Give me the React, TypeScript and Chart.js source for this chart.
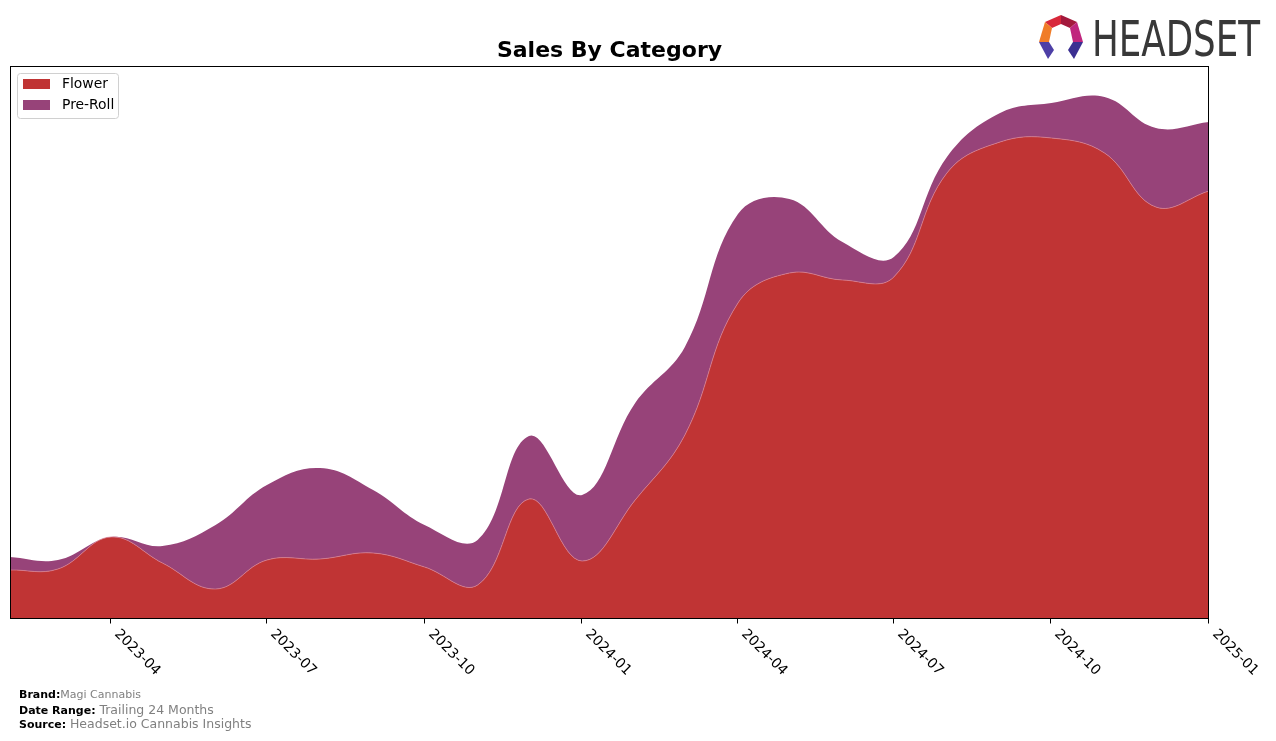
import React, { useEffect, useRef } from "react";
import { Chart, registerables } from "chart.js";

Chart.register(...registerables);

const months = [
  "2023-02", "2023-03", "2023-04", "2023-05", "2023-06", "2023-07",
  "2023-08", "2023-09", "2023-10", "2023-11", "2023-12", "2024-01",
  "2024-02", "2024-03", "2024-04", "2024-05", "2024-06", "2024-07",
  "2024-08", "2024-09", "2024-10", "2024-11", "2024-12", "2025-01",
];
const flowerSales = [49, 50, 82, 56, 30, 59, 60, 66, 52, 34, 120, 58, 119, 184, 316, 346, 339, 342, 446, 477, 481, 466, 412, 428];
const preRollSales = [13, 9, 0, 17, 64, 75, 91, 63, 42, 45, 63, 66, 97, 88, 89, 74, 38, 20, 16, 29, 35, 56, 79, 69];
const tickLabels = ["2023-04", "2023-07", "2023-10", "2024-01", "2024-04", "2024-07", "2024-10", "2025-01"];
const seriesNames = ["Flower", "Pre-Roll"];
const seriesColors = ["#c03434", "#974379"];
const yMax = 553;

const dayIndex = (m: string) => {
  const [y, mo] = m.split("-").map(Number);
  const [y0, m0] = months[0].split("-").map(Number);
  return (Date.UTC(y, mo - 1, 1) - Date.UTC(y0, m0 - 1, 1)) / 86400000;
};

const FONT = "'DejaVu Sans', sans-serif";

const decorPlugin = {
  id: "decor",
  afterDraw(chart: any) {
    const { ctx, chartArea } = chart;
    const xs = chart.scales.x;
    ctx.save();
    // frame
    ctx.strokeStyle = "#000";
    ctx.lineWidth = 1;
    ctx.strokeRect(
      Math.round(chartArea.left) + 0.5,
      Math.round(chartArea.top) + 0.5,
      Math.round(chartArea.right - chartArea.left) - 1,
      Math.round(chartArea.bottom - chartArea.top) - 1
    );
    // ticks + labels
    ctx.font = `14px ${FONT}`;
    ctx.fillStyle = "#000";
    ctx.textAlign = "left";
    ctx.textBaseline = "top";
    tickLabels.forEach((t) => {
      const px = Math.round(xs.getPixelForValue(dayIndex(t))) - 0.5;
      const by = Math.round(chartArea.bottom);
      ctx.beginPath();
      ctx.moveTo(px, by);
      ctx.lineTo(px, by + 4.5);
      ctx.stroke();
      ctx.save();
      ctx.translate(px + 11, by + 8);
      ctx.rotate(Math.PI / 4);
      ctx.fillText(t, 0, 0);
      ctx.restore();
    });
    // legend
    const lx = 17.5, ly = 73.5, lw = 101, lh = 45, r = 3;
    ctx.beginPath();
    ctx.moveTo(lx + r, ly);
    ctx.lineTo(lx + lw - r, ly);
    ctx.arcTo(lx + lw, ly, lx + lw, ly + r, r);
    ctx.lineTo(lx + lw, ly + lh - r);
    ctx.arcTo(lx + lw, ly + lh, lx + lw - r, ly + lh, r);
    ctx.lineTo(lx + r, ly + lh);
    ctx.arcTo(lx, ly + lh, lx, ly + lh - r, r);
    ctx.lineTo(lx, ly + r);
    ctx.arcTo(lx, ly, lx + r, ly, r);
    ctx.closePath();
    ctx.fillStyle = "rgba(255,255,255,0.8)";
    ctx.fill();
    ctx.strokeStyle = "#d0d0d0";
    ctx.stroke();
    ctx.font = `13.9px ${FONT}`;
    ctx.textBaseline = "middle";
    chart.data.datasets.forEach((ds: any, i: number) => {
      const y = 79 + i * 21;
      ctx.fillStyle = ds.backgroundColor;
      ctx.fillRect(23, y, 27, 10);
      ctx.fillStyle = "#000";
      ctx.fillText(ds.label, 62, y + 5.5);
    });
    ctx.restore();
  },
};

function Logo() {
  return (
    <g>
      <polygon points="1045,22 1061,15 1061,24 1052,28" fill="#d8283a" />
      <polygon points="1061,15 1077,22 1070,28 1061,24" fill="#a3193c" />
      <polygon points="1045,22 1052,28 1049,42 1039,42" fill="#f07c28" />
      <polygon points="1077,22 1083,42 1073,42 1070,28" fill="#c0267e" />
      <polygon points="1039,42 1049,42 1054,50 1048,59" fill="#4d3fa6" />
      <polygon points="1073,42 1083,42 1074,59 1068,50" fill="#3b2f92" />
      <text x="1092" y="56" fontFamily={FONT} fontSize="49" fill="#383838" textLength="168" lengthAdjust="spacingAndGlyphs">
        HEADSET
      </text>
    </g>
  );
}

export default function App() {
  const canvasRef = useRef<HTMLCanvasElement | null>(null);

  useEffect(() => {
    const canvas = canvasRef.current;
    if (!canvas) return;
    const values = [flowerSales, preRollSales];
    const chart = new Chart(canvas, {
      type: "line",
      data: {
        datasets: values.map((vals, i) => ({
          label: seriesNames[i],
          data: vals.map((v, j) => ({ x: dayIndex(months[j]), y: v })),
          backgroundColor: seriesColors[i],
          borderColor: i === 0 ? "rgba(214,130,150,0.9)" : seriesColors[i],
          borderWidth: i === 0 ? 0.8 : 0,
          fill: i === 0 ? "origin" : "-1",
          pointRadius: 0,
          tension: 0.4,
        })),
      },
      options: {
        responsive: false,
        animation: false,
        layout: { padding: { left: 10, top: 66, right: 67, bottom: 122 } },
        plugins: { legend: { display: false }, title: { display: false }, tooltip: { enabled: false } },
        scales: {
          x: {
            type: "linear",
            display: false,
            min: dayIndex(months[0]),
            max: dayIndex(months[months.length - 1]),
          },
          y: { display: false, stacked: true, min: 0, max: yMax },
        },
      },
      plugins: [decorPlugin],
    });
    return () => chart.destroy();
  }, []);

  return (
    <div style={{ position: "fixed", left: 0, top: 0, width: 1276, height: 741, background: "#fff" }}>
      <canvas ref={canvasRef} width={1276} height={741} style={{ position: "absolute", left: 0, top: 0, display: "block" }} />
      <svg width={1276} height={741} style={{ position: "absolute", left: 0, top: 0, pointerEvents: "none" }}>
        <text x="609.5" y="57" textAnchor="middle" fontFamily={FONT} fontWeight="bold" fontSize="22" fill="#000">
          Sales By Category
        </text>
        <Logo />
        <text x="19" y="698" fontFamily={FONT} fontSize="11">
          <tspan fontWeight="bold" fill="#000">Brand:</tspan>
          <tspan fill="#808080">Magi Cannabis</tspan>
        </text>
        <text x="19" y="714" fontFamily={FONT}>
          <tspan fontWeight="bold" fill="#000" fontSize="11">Date Range: </tspan>
          <tspan fill="#808080" fontSize="12.5">Trailing 24 Months</tspan>
        </text>
        <text x="19" y="728" fontFamily={FONT}>
          <tspan fontWeight="bold" fill="#000" fontSize="11">Source: </tspan>
          <tspan fill="#808080" fontSize="12.5">Headset.io Cannabis Insights</tspan>
        </text>
      </svg>
    </div>
  );
}
